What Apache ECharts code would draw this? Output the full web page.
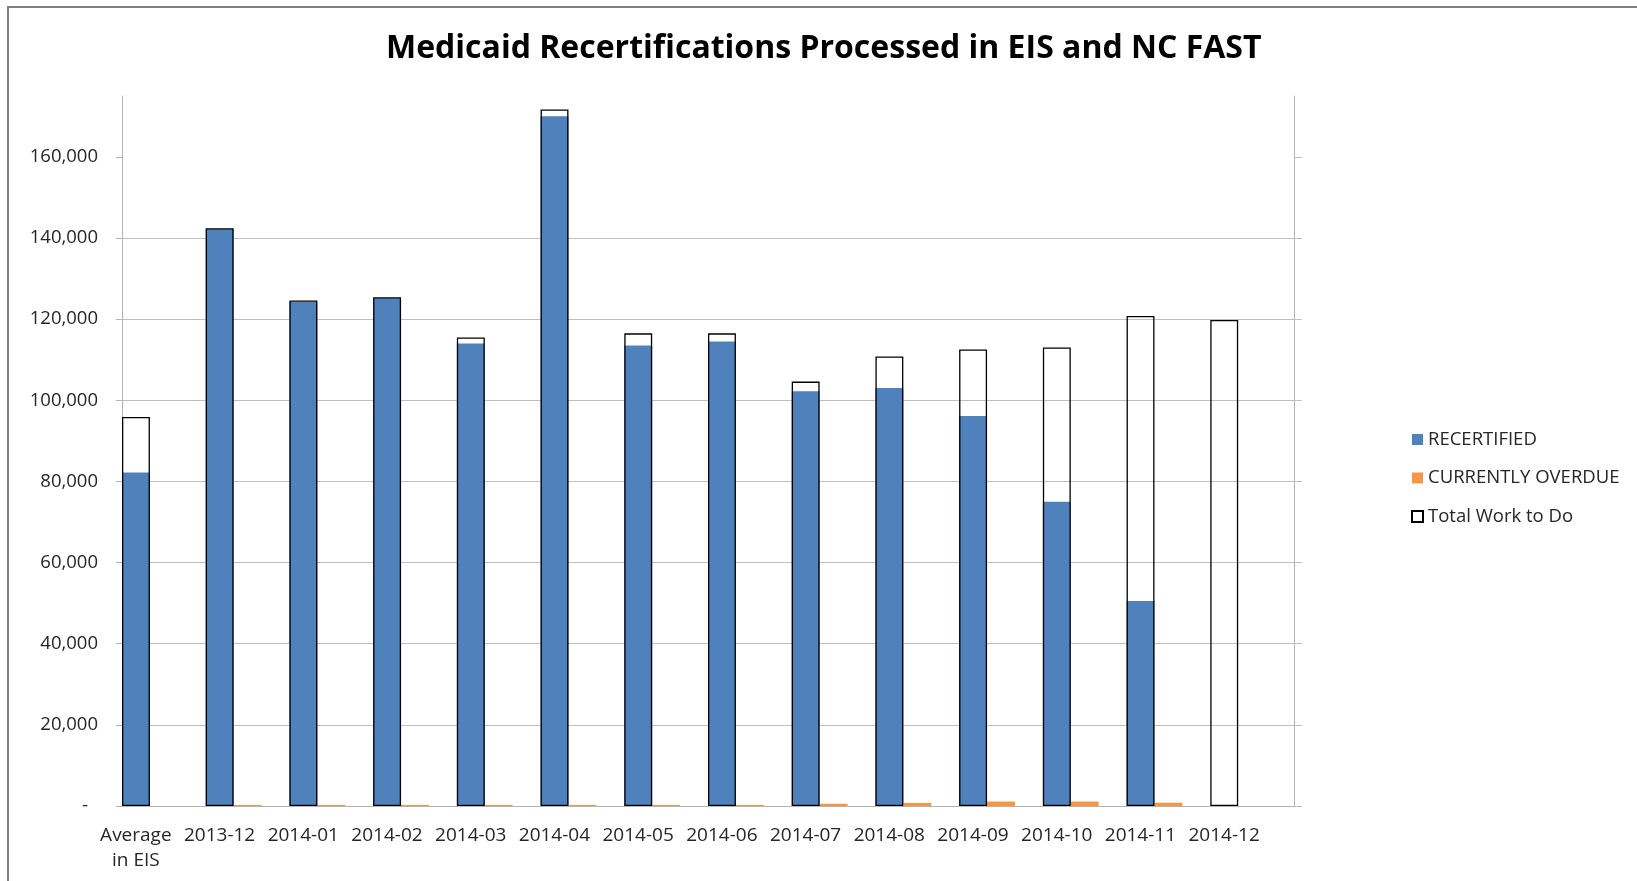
<!DOCTYPE html>
<html>
<head>
<meta charset="utf-8">
<script src="https://cdn.jsdelivr.net/npm/echarts@6/dist/echarts.min.js"></script>
<style>
  html, body { margin: 0; padding: 0; background: #fff; overflow: hidden; }
  #container { position: absolute; left: 0; top: 0; width: 1637px; height: 881px; }
  #frame { position: absolute; left: 7px; top: 6px; width: 1700px; height: 1000px;
           border-left: 2px solid #808080; border-top: 2px solid #808080; pointer-events: none; }
</style>
</head>
<body>
<div id="container"></div>
<div id="frame"></div>
<script>
// values
var categories = ['Average\nin EIS', '2013-12', '2014-01', '2014-02', '2014-03', '2014-04', '2014-05',
                  '2014-06', '2014-07', '2014-08', '2014-09', '2014-10', '2014-11', '2014-12'];
var recertified = [82200, 142200, 124300, 125200, 114000, 170000, 113500, 114500, 102200, 103000, 96100, 75000, 50500, null];
var overdue = [null, 250, 250, 250, 250, 250, 250, 250, 550, 750, 1100, 1100, 800, null];
var totalWork = [95900, 142400, 124600, 125400, 115500, 171700, 116500, 116500, 104600, 110800, 112500, 113000, 120800, 119800];
var yTicks = [0, 20000, 40000, 60000, 80000, 100000, 120000, 140000, 160000];
var yMax = 175000;

var font = 'Open Sans';
var chart = echarts.init(document.getElementById('container'));

function yLabel(v) {
    if (v === 0) return '{d|-}';
    return v.toLocaleString('en-US');
}

chart.setOption({
    animation: false,
    title: {
        text: 'Medicaid Recertifications Processed in EIS and NC FAST',
        left: 381,
        top: 28,
        padding: 5,
        textStyle: { fontFamily: font, fontWeight: 'bold', fontSize: 32, color: '#000' }
    },
    legend: {
        orient: 'vertical',
        left: 1406,
        top: 425,
        itemWidth: 11,
        itemHeight: 11,
        itemGap: 19.5,
        icon: 'rect',
        data: ['RECERTIFIED', 'CURRENTLY OVERDUE', 'Total Work to Do'],
        textStyle: { fontFamily: font, fontSize: 18.5, color: '#262626' }
    },
    grid: { left: 122, right: 343, top: 96, bottom: 75 },
    xAxis: [
        {
            type: 'category',
            data: categories,
            boundaryGap: true,
            axisLine: { lineStyle: { color: '#b3b3b3', width: 1 } },
            axisTick: { show: false },
            axisLabel: {
                interval: 0,
                margin: 17,
                fontFamily: font,
                fontSize: 19,
                lineHeight: 25,
                color: '#262626',
                padding: [0, 56, 0, 0]
            }
        },
        {
            type: 'category',
            data: categories,
            show: false
        }
    ],
    yAxis: [
        {
            type: 'value',
            min: 0,
            max: yMax,
            axisLine: { show: true, lineStyle: { color: '#b3b3b3' } },
            axisTick: { show: true, length: 6, customValues: yTicks, lineStyle: { color: '#b3b3b3' } },
            splitLine: { show: true, showMaxLine: false, lineStyle: { color: '#bfbfbf', width: 1 } },
            axisLabel: {
                customValues: yTicks,
                margin: 24,
                fontFamily: font,
                fontSize: 18.5,
                color: '#262626',
                formatter: yLabel,
                rich: { d: { fontFamily: font, fontSize: 19, color: '#262626', padding: [0, 10, 0, 0] } }
            }
        },
        {
            type: 'value',
            position: 'right',
            min: 0,
            max: yMax,
            axisLine: { show: true, lineStyle: { color: '#b3b3b3' } },
            axisTick: { show: true, length: 8, customValues: yTicks, lineStyle: { color: '#bfbfbf' } },
            splitLine: { show: false },
            axisLabel: { show: false }
        }
    ],
    series: [
        {
            name: 'RECERTIFIED',
            type: 'bar',
            xAxisIndex: 0,
            barGap: 0,
            barCategoryGap: 0,
            itemStyle: { color: '#4f81bd' },
            data: recertified
        },
        {
            name: 'CURRENTLY OVERDUE',
            type: 'bar',
            xAxisIndex: 0,
            barGap: 0,
            barCategoryGap: 0,
            itemStyle: { color: '#f79646' },
            data: overdue
        },
        {
            name: 'spacer',
            type: 'bar',
            xAxisIndex: 0,
            barGap: 0,
            barCategoryGap: 0,
            data: []
        },
        {
            name: 'Total Work to Do',
            type: 'bar',
            xAxisIndex: 1,
            barGap: 0,
            barCategoryGap: 0,
            z: 5,
            itemStyle: { color: 'rgba(255,255,255,0)', borderColor: '#000', borderWidth: 1.3 },
            data: totalWork
        },
        {
            name: 'spacer2',
            type: 'bar',
            xAxisIndex: 1,
            barGap: 0,
            barCategoryGap: 0,
            data: []
        },
        {
            name: 'spacer3',
            type: 'bar',
            xAxisIndex: 1,
            barGap: 0,
            barCategoryGap: 0,
            data: []
        }
    ]
});
</script>
</body>
</html>
